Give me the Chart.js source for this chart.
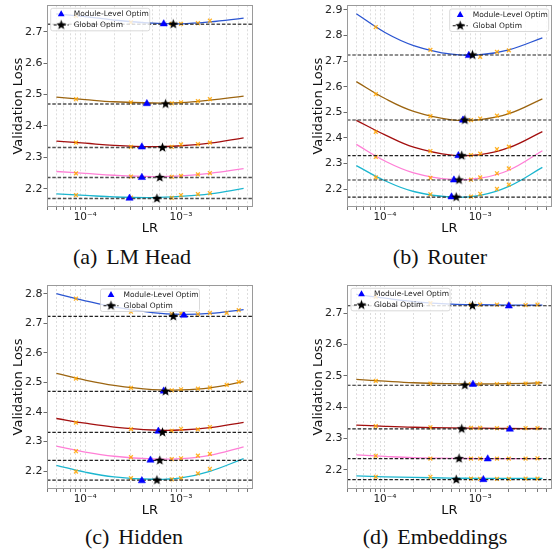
<!DOCTYPE html>
<html lang="en">
<head>
  <meta charset="UTF-8" />
  <title>LR sweep per module</title>
  <script src="https://cdn.jsdelivr.net/npm/chart.js"></script>
  <style>
    body {
      margin: 0;
      width: 557px;
      height: 551px;
      position: relative;
      overflow: hidden;
      background: #fff;
    }
    canvas { position: absolute; }
    .caption {
      position: absolute;
      transform: translate(-50%, -50%);
      font-family: "Liberation Serif", "DejaVu Serif", serif;
      font-size: 22px;
      color: #111;
      white-space: nowrap;
    }
    .caption span { margin-right: 0.15em; }
  </style>
</head>
<body>
  <canvas id="chartA" width="270" height="240" style="left:0;top:0"></canvas>
  <canvas id="chartB" width="257" height="240" style="left:300px;top:0"></canvas>
  <canvas id="chartC" width="270" height="252" style="left:0;top:270px"></canvas>
  <canvas id="chartD" width="257" height="252" style="left:300px;top:270px"></canvas>

  <div class="caption" style="left:132px;top:257px"><span>(a)</span> LM Head</div>
  <div class="caption" style="left:440px;top:257px"><span>(b)</span> Router</div>
  <div class="caption" style="left:134px;top:537px"><span>(c)</span> Hidden</div>
  <div class="caption" style="left:435px;top:537px"><span>(d)</span> Embeddings</div>

  <script>
    // shared x values
    const curveLR = [5e-5, 1e-4, 2e-4, 5e-4, 1e-3, 2e-3, 4.5e-3];
    const sampleLR = [8e-5, 3e-4, 8e-4, 1e-3, 1.5e-3, 2e-3, 3e-3, 4e-3];
    const lrTicks = [4e-5, 5e-5, 6e-5, 7e-5, 8e-5, 9e-5,
                     1e-4, 2e-4, 3e-4, 4e-4, 5e-4, 6e-4, 7e-4, 8e-4, 9e-4,
                     1e-3, 2e-3, 3e-3, 4e-3, 5e-3];
    const lrMin = 3.99e-5;
    const lrMax = 5.64e-3;

    // global optimum, one per curve (blue, brown, red, pink, cyan)
    const globalLR = [8.3e-4, 6.9e-4, 6.4e-4, 6.0e-4, 5.6e-4];
    const globalLoss = [2.724, 2.470, 2.331, 2.236, 2.169];

    const curveColors = ["#2b55d1", "#9c6511", "#a30f0f", "#ff7fd6", "#1cb6cf"];

    // (a) LM Head
    const headCurves = [
      [2.757, 2.748, 2.737, 2.727, 2.725, 2.731, 2.743],
      [2.492, 2.484, 2.477, 2.473, 2.474, 2.482, 2.495],
      [2.352, 2.345, 2.338, 2.334, 2.337, 2.345, 2.362],
      [2.255, 2.249, 2.243, 2.239, 2.241, 2.249, 2.264],
      [2.184, 2.179, 2.174, 2.172, 2.176, 2.184, 2.201]
    ];
    const headSamples = [
      [2.750, 2.730, 2.725, 2.725, 2.727, 2.735, null, null],
      [2.485, 2.475, 2.472, 2.475, 2.479, 2.485, null, null],
      [2.347, 2.333, 2.333, 2.341, 2.342, 2.347, null, null],
      [2.249, 2.239, 2.238, 2.241, 2.246, 2.250, null, null],
      [2.180, 2.172, 2.171, 2.180, 2.183, 2.186, null, null]
    ];
    const headModuleLR = [6.6e-4, 4.4e-4, 3.9e-4, 3.9e-4, 2.9e-4];
    const headModuleLoss = [2.725, 2.471, 2.333, 2.236, 2.170];

    // (b) Router
    const routerCurves = [
      [2.885, 2.812, 2.761, 2.727, 2.725, 2.744, 2.791],
      [2.620, 2.554, 2.504, 2.471, 2.472, 2.495, 2.553],
      [2.469, 2.412, 2.364, 2.333, 2.335, 2.362, 2.425],
      [2.375, 2.310, 2.264, 2.238, 2.243, 2.274, 2.350],
      [2.292, 2.233, 2.191, 2.169, 2.176, 2.211, 2.285]
    ];
    const routerSamples = [
      [2.833, 2.744, 2.723, 2.717, 2.736, 2.742, null, null],
      [2.571, 2.485, 2.470, 2.476, 2.487, 2.500, null, null],
      [2.424, 2.349, 2.333, 2.339, 2.356, 2.366, null, null],
      [2.326, 2.244, 2.237, 2.246, 2.262, 2.281, null, null],
      [2.246, 2.180, 2.171, 2.182, 2.201, 2.218, null, null]
    ];
    const routerModuleLR = [7.6e-4, 6.6e-4, 5.9e-4, 5.3e-4, 5.0e-4];
    const routerModuleLoss = [2.722, 2.470, 2.331, 2.236, 2.170];

    // (c) Hidden
    const hiddenCurves = [
      [2.801, 2.777, 2.756, 2.737, 2.731, 2.734, 2.747],
      [2.531, 2.508, 2.490, 2.476, 2.475, 2.482, 2.503],
      [2.378, 2.362, 2.349, 2.339, 2.339, 2.347, 2.365],
      [2.284, 2.264, 2.250, 2.241, 2.242, 2.253, 2.282],
      [2.219, 2.196, 2.180, 2.172, 2.177, 2.199, 2.242]
    ];
    const hiddenSamples = [
      [2.784, 2.740, 2.733, 2.734, 2.732, 2.736, 2.736, 2.745],
      [2.513, 2.482, 2.473, 2.477, 2.479, 2.483, 2.492, 2.502],
      [2.364, 2.342, 2.336, 2.343, 2.341, 2.349, null, null],
      [2.267, 2.247, 2.240, 2.243, 2.252, 2.258, null, null],
      [2.198, 2.176, 2.172, 2.176, 2.192, 2.207, null, null]
    ];
    const hiddenModuleLR = [1.07e-3, 6.6e-4, 5.8e-4, 4.8e-4, 3.9e-4];
    const hiddenModuleLoss = [2.728, 2.471, 2.335, 2.237, 2.167];

    // (d) Embeddings
    const embedCurves = [
      [2.760, 2.748, 2.737, 2.729, 2.727, 2.726, 2.726],
      [2.489, 2.483, 2.478, 2.475, 2.474, 2.475, 2.478],
      [2.343, 2.339, 2.336, 2.334, 2.333, 2.332, 2.332],
      [2.248, 2.243, 2.239, 2.237, 2.236, 2.236, 2.236],
      [2.181, 2.178, 2.176, 2.174, 2.173, 2.173, 2.173]
    ];
    const embedSamples = [
      [2.752, 2.732, 2.727, 2.727, 2.727, 2.727, 2.726, 2.727],
      [2.484, 2.475, 2.474, 2.474, 2.474, 2.475, 2.475, 2.477],
      [2.340, 2.336, 2.334, 2.334, 2.333, 2.333, 2.333, 2.333],
      [2.245, 2.236, 2.236, 2.236, 2.236, 2.236, 2.236, 2.237],
      [2.178, 2.178, 2.172, 2.171, 2.171, 2.171, 2.172, 2.172]
    ];
    const embedModuleLR = [2.0e-3, 8.4e-4, 2.05e-3, 1.2e-3, 1.08e-3];
    const embedModuleLoss = [2.723, 2.473, 2.330, 2.235, 2.169];

    Chart.defaults.font.family = '"DejaVu Sans", sans-serif';
    Chart.defaults.color = '#222';

    // filled five point star, used as point style
    function starImage(r) {
      const c = document.createElement('canvas');
      const s = Math.ceil(r * 2 + 2);
      c.width = c.height = s;
      const g = c.getContext('2d');
      g.beginPath();
      for (let i = 0; i < 10; i++) {
        const rad = i % 2 ? r * 0.42 : r;
        const ang = -Math.PI / 2 + i * Math.PI / 5;
        g.lineTo(s / 2 + rad * Math.cos(ang), s / 2 + rad * Math.sin(ang));
      }
      g.closePath();
      g.fillStyle = '#000';
      g.fill();
      return c;
    }
    const star = starImage(5.2);

    const sup = { '-': '\u207b', '0': '\u2070', '1': '\u00b9', '2': '\u00b2', '3': '\u00b3',
                  '4': '\u2074', '5': '\u2075', '6': '\u2076' };
    function logLabel(v) {
      const e = Math.log10(v);
      if (Math.abs(e - Math.round(e)) > 1e-6) return '';
      return '10' + String(Math.round(e)).split('').map(ch => sup[ch]).join('');
    }

    function toPoints(xs, ys) {
      return xs.map((x, i) => ({ x, y: ys[i] })).filter(p => p.y !== null);
    }

    // box round the plot area
    const frame = {
      id: 'frame',
      afterDraw(chart) {
        const { ctx, chartArea: a } = chart;
        ctx.save();
        ctx.strokeStyle = '#9a9a9a';
        ctx.lineWidth = 1;
        ctx.strokeRect(Math.round(a.left) + 0.5, Math.round(a.top) + 0.5,
                       Math.round(a.width) - 1, Math.round(a.height) - 1);
        ctx.restore();
      }
    };

    // matplotlib style legend inside the axes
    const legendBox = {
      id: 'legendBox',
      afterDatasetsDraw(chart, args, opts) {
        const { ctx, chartArea: a } = chart;
        const w = 99, h = 22.5;
        let x = a.left + (opts.dx || 3.7);
        if (opts.align === 'right') x = a.right - 3 - w;
        if (opts.align === 'center') x = (a.left + a.right) / 2 - w / 2;
        const y = a.top + opts.top;
        ctx.save();
        ctx.beginPath();
        ctx.roundRect(x, y, w, h, 2);
        ctx.fillStyle = 'rgba(255,255,255,0.8)';
        ctx.fill();
        ctx.strokeStyle = '#d0d0d0';
        ctx.lineWidth = 0.8;
        ctx.stroke();

        const r1 = y + 5.8, r2 = y + 16.7, mx = x + 10.5;
        ctx.fillStyle = '#0000ff';
        ctx.beginPath();
        ctx.moveTo(mx, r1 - 3.8);
        ctx.lineTo(mx + 3.4, r1 + 2.2);
        ctx.lineTo(mx - 3.4, r1 + 2.2);
        ctx.closePath();
        ctx.fill();

        ctx.strokeStyle = '#111';
        ctx.lineWidth = 1.1;
        ctx.setLineDash([3, 1.6]);
        ctx.beginPath();
        ctx.moveTo(x + 3, r2);
        ctx.lineTo(x + 18, r2);
        ctx.stroke();
        ctx.setLineDash([]);
        ctx.drawImage(star, mx - star.width / 2, r2 - star.height / 2);

        ctx.fillStyle = '#222';
        ctx.font = '7.5px "DejaVu Sans"';
        ctx.textBaseline = 'middle';
        ctx.fillText('Module-Level Optim', x + 23, r1);
        ctx.fillText('Global Optim', x + 23, r2);
        ctx.restore();
      }
    };

    function buildChart(id, p) {
      const datasets = [];
      p.curves.forEach((ys, i) => {
        datasets.push({
          data: toPoints(curveLR, ys), showLine: true, tension: 0.4,
          borderColor: curveColors[i], borderWidth: 1.3, pointRadius: 0, order: 4
        });
        datasets.push({
          data: toPoints(sampleLR, p.samples[i]), pointStyle: 'crossRot', pointRadius: 2.7,
          borderColor: 'rgba(255,165,0,0.85)', borderWidth: 1.3, order: 3
        });
        datasets.push({
          data: [{ x: lrMin, y: globalLoss[i] }, { x: lrMax, y: globalLoss[i] }],
          showLine: true, borderColor: p.dashColor, borderWidth: p.dashWidth,
          borderDash: [3.5, 1.8], pointRadius: 0, order: 2
        });
      });
      datasets.push({
        data: toPoints(p.moduleLR, p.moduleLoss), pointStyle: 'triangle', pointRadius: 4.2,
        backgroundColor: '#0000ff', borderColor: '#0000ff', borderWidth: 0.5, order: 1
      });
      datasets.push({
        data: toPoints(globalLR, globalLoss), pointStyle: star, order: 0
      });

      return new Chart(document.getElementById(id), {
        type: 'scatter',
        data: { datasets },
        options: {
          responsive: false,
          animation: false,
          events: [],
          layout: { padding: p.pad },
          plugins: {
            legend: { display: false },
            tooltip: { enabled: false },
            legendBox: p.legend
          },
          scales: {
            x: {
              type: 'logarithmic',
              min: lrMin,
              max: lrMax,
              afterBuildTicks: axis => { axis.ticks = lrTicks.map(v => ({ value: v })); },
              afterFit: axis => { axis.height = p.xHeight; axis.paddingLeft = 0; axis.paddingRight = 0; },
              ticks: { autoSkip: false, maxRotation: 0, padding: 1, font: { size: 10.5 }, color: '#222',
                       callback: v => logLabel(v) },
              grid: { color: 'rgba(0,0,0,0.17)', lineWidth: 0.8, tickColor: '#555', tickLength: 3,
                      tickBorderDash: [], tickWidth: 0.8 },
              border: { display: false, dash: [2, 2] },
              title: { display: true, text: 'LR', font: { size: 13 }, color: '#111',
                       padding: { top: 0, bottom: 4 } }
            },
            y: {
              min: p.yMin,
              max: p.yMax,
              afterFit: axis => { axis.width = 47; axis.paddingTop = 0; axis.paddingBottom = 0; },
              ticks: { stepSize: 0.1, includeBounds: false, padding: 1, font: { size: 11 }, color: '#222',
                       callback: v => v.toFixed(1) },
              grid: { drawOnChartArea: false, tickLength: 3.5, color: '#444', lineWidth: 0.8 },
              border: { display: false },
              title: { display: true, text: 'Validation Loss', font: { size: 13 }, color: '#111',
                       padding: { top: 11, bottom: 0 } }
            }
          }
        },
        plugins: [frame, legendBox]
      });
    }

    buildChart('chartA', {
      curves: headCurves, samples: headSamples, moduleLR: headModuleLR, moduleLoss: headModuleLoss,
      yMin: 2.142, yMax: 2.784, pad: { left: 0, top: 3, right: 17, bottom: 0 }, xHeight: 33,
      legend: { align: 'left', dx: 3.7, top: 3 }, dashColor: 'rgba(50,50,50,0.85)', dashWidth: 1.5
    });
    buildChart('chartB', {
      curves: routerCurves, samples: routerSamples, moduleLR: routerModuleLR, moduleLoss: routerModuleLoss,
      yMin: 2.1305, yMax: 2.918, pad: { left: 0, top: 3, right: 4, bottom: 0 }, xHeight: 33,
      legend: { align: 'right', top: 3.7 }, dashColor: '#222', dashWidth: 1.1
    });
    buildChart('chartC', {
      curves: hiddenCurves, samples: hiddenSamples, moduleLR: hiddenModuleLR, moduleLoss: hiddenModuleLoss,
      yMin: 2.139, yMax: 2.8305, pad: { left: 0, top: 15, right: 17, bottom: 0 }, xHeight: 33,
      legend: { align: 'center', top: 4 }, dashColor: '#222', dashWidth: 1.1
    });
    buildChart('chartD', {
      curves: embedCurves, samples: embedSamples, moduleLR: embedModuleLR, moduleLoss: embedModuleLoss,
      yMin: 2.139, yMax: 2.790, pad: { left: 0, top: 15, right: 4, bottom: 0 }, xHeight: 33,
      legend: { align: 'left', dx: 4, top: 3.3 }, dashColor: '#222', dashWidth: 1.1
    });
  </script>
</body>
</html>
